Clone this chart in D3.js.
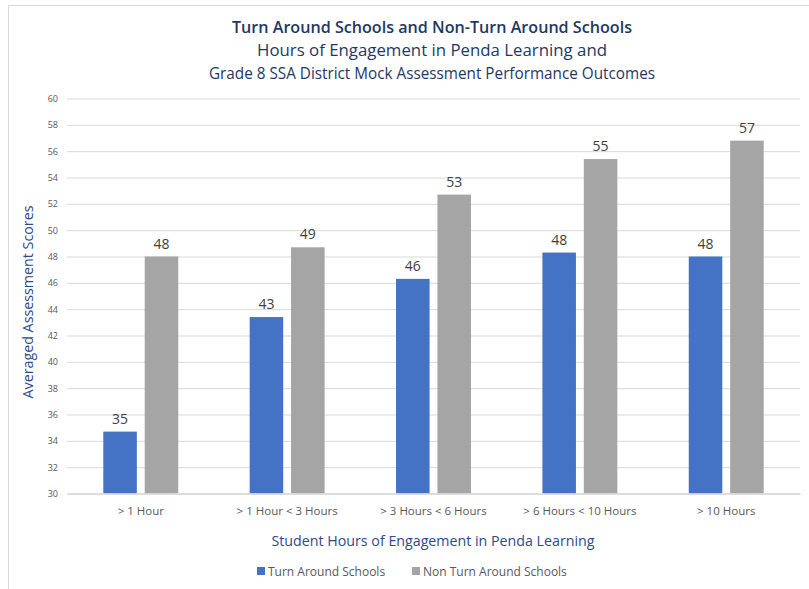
<!DOCTYPE html>
<html><head><meta charset="utf-8">
<script src="https://cdn.jsdelivr.net/npm/d3@7"></script>
<style>body{margin:0;background:#fff;} svg{display:block;}</style>
</head><body><div id="chart"></div>
<script>
const categories = ["> 1 Hour", "> 1 Hour < 3 Hours", "> 3 Hours < 6 Hours", "> 6 Hours < 10 Hours", "> 10 Hours"];
const seriesNames = ["Turn Around Schools", "Non Turn Around Schools"];
const turnAround = [34.7, 43.4, 46.3, 48.3, 48.0];
const nonTurnAround = [48.0, 48.7, 52.7, 55.4, 56.8];
const yTicks = [30,32,34,36,38,40,42,44,46,48,50,52,54,56,58,60];
const colors = ["#4472C4", "#A5A5A5"];

const W = 809, H = 589;
const svg = d3.select("#chart").append("svg").attr("width", W).attr("height", H);
svg.append("rect").attr("x", 8.5).attr("y", 5.5).attr("width", W).attr("height", H)
  .attr("fill", "#fff").attr("stroke", "#d9d9d9").attr("stroke-width", 1);

const m = {left: 67, right: 800, top: 98.5, bottom: 493.5};
const x = d3.scaleBand().domain(categories).range([m.left, m.right]).paddingInner(0.488).paddingOuter(0.248);
const xs = d3.scaleBand().domain(seriesNames).range([0, x.bandwidth()]).paddingInner(0.19);
const y = d3.scaleLinear().domain([30, 60]).range([m.bottom, m.top]);

const font = "'Open Sans', 'Noto Sans', sans-serif";

// gridlines
const yAxis = d3.axisLeft(y).tickValues(yTicks).tickSize(-(m.right - m.left)).tickPadding(9);
const gy = svg.append("g").attr("transform", `translate(${m.left},0)`).call(yAxis);
gy.select(".domain").remove();
gy.selectAll(".tick line").attr("stroke", "#d9d9d9").attr("stroke-width", 1);
gy.selectAll(".tick text").attr("fill", "#595959").style("font-family", font).style("font-size", "9px");

// bars
const data = categories.map((c, i) => ({cat: c, vals: [turnAround[i], nonTurnAround[i]]}));
const groups = svg.append("g").selectAll("g").data(data).join("g")
  .attr("transform", d => `translate(${x(d.cat)},0)`);
groups.selectAll("rect").data(d => d.vals.map((v, j) => ({v, s: seriesNames[j], j}))).join("rect")
  .attr("x", d => xs(d.s)).attr("width", xs.bandwidth())
  .attr("y", d => y(d.v)).attr("height", d => y(30) - y(d.v))
  .attr("fill", d => colors[d.j]);
groups.selectAll("text").data(d => d.vals.map((v, j) => ({v, s: seriesNames[j], j}))).join("text")
  .attr("x", d => xs(d.s) + xs.bandwidth() / 2).attr("y", d => y(d.v) - 8)
  .attr("text-anchor", "middle").attr("fill", "#404040")
  .style("font-family", font).style("font-size", "14px")
  .text(d => Math.round(d.v));

// x axis
const gx = svg.append("g").attr("transform", `translate(0,${m.bottom})`)
  .call(d3.axisBottom(x).tickSize(0).tickPadding(13));
gx.select(".domain").attr("stroke", "#d9d9d9").attr("stroke-width", 1.5);
gx.selectAll(".tick text").attr("fill", "#595959").style("font-family", font).style("font-size", "11.5px");

// titles
const navy = "#1F3864";
svg.append("text").attr("x", 432).attr("y", 33).attr("text-anchor", "middle")
  .attr("fill", navy).style("font-family", font).style("font-size", "15.5px").style("font-weight", "600")
  .attr("textLength", 400).attr("lengthAdjust", "spacingAndGlyphs")
  .text("Turn Around Schools and Non-Turn Around Schools");
svg.append("text").attr("x", 432).attr("y", 56).attr("text-anchor", "middle")
  .attr("fill", navy).style("font-family", font).style("font-size", "15.5px")
  .attr("textLength", 350).attr("lengthAdjust", "spacingAndGlyphs")
  .text("Hours of Engagement in Penda Learning and");
svg.append("text").attr("x", 432).attr("y", 79).attr("text-anchor", "middle")
  .attr("fill", navy).style("font-family", font).style("font-size", "15.5px")
  .attr("textLength", 446).attr("lengthAdjust", "spacingAndGlyphs")
  .text("Grade 8 SSA District Mock Assessment Performance Outcomes");

const axisNavy = "#2E4A8C";
svg.append("text").attr("transform", "translate(33,302) rotate(-90)").attr("text-anchor", "middle")
  .attr("fill", axisNavy).style("font-family", font).style("font-size", "14.3px")
  .attr("textLength", 193).attr("lengthAdjust", "spacingAndGlyphs")
  .text("Averaged Assessment Scores");
svg.append("text").attr("x", 433).attr("y", 546).attr("text-anchor", "middle")
  .attr("fill", axisNavy).style("font-family", font).style("font-size", "14.3px")
  .attr("textLength", 323).attr("lengthAdjust", "spacingAndGlyphs")
  .text("Student Hours of Engagement in Penda Learning");

// legend
const legendX = [257, 412];
const lg = svg.append("g").selectAll("g").data(seriesNames).join("g")
  .attr("transform", (d, i) => `translate(${legendX[i]},567)`);
lg.append("rect").attr("width", 8).attr("height", 8).attr("fill", (d, i) => colors[i]);
lg.append("text").attr("x", 11).attr("y", 8.5).attr("fill", "#595959")
  .style("font-family", font).style("font-size", "12px").text(d => d);
</script></body></html>
